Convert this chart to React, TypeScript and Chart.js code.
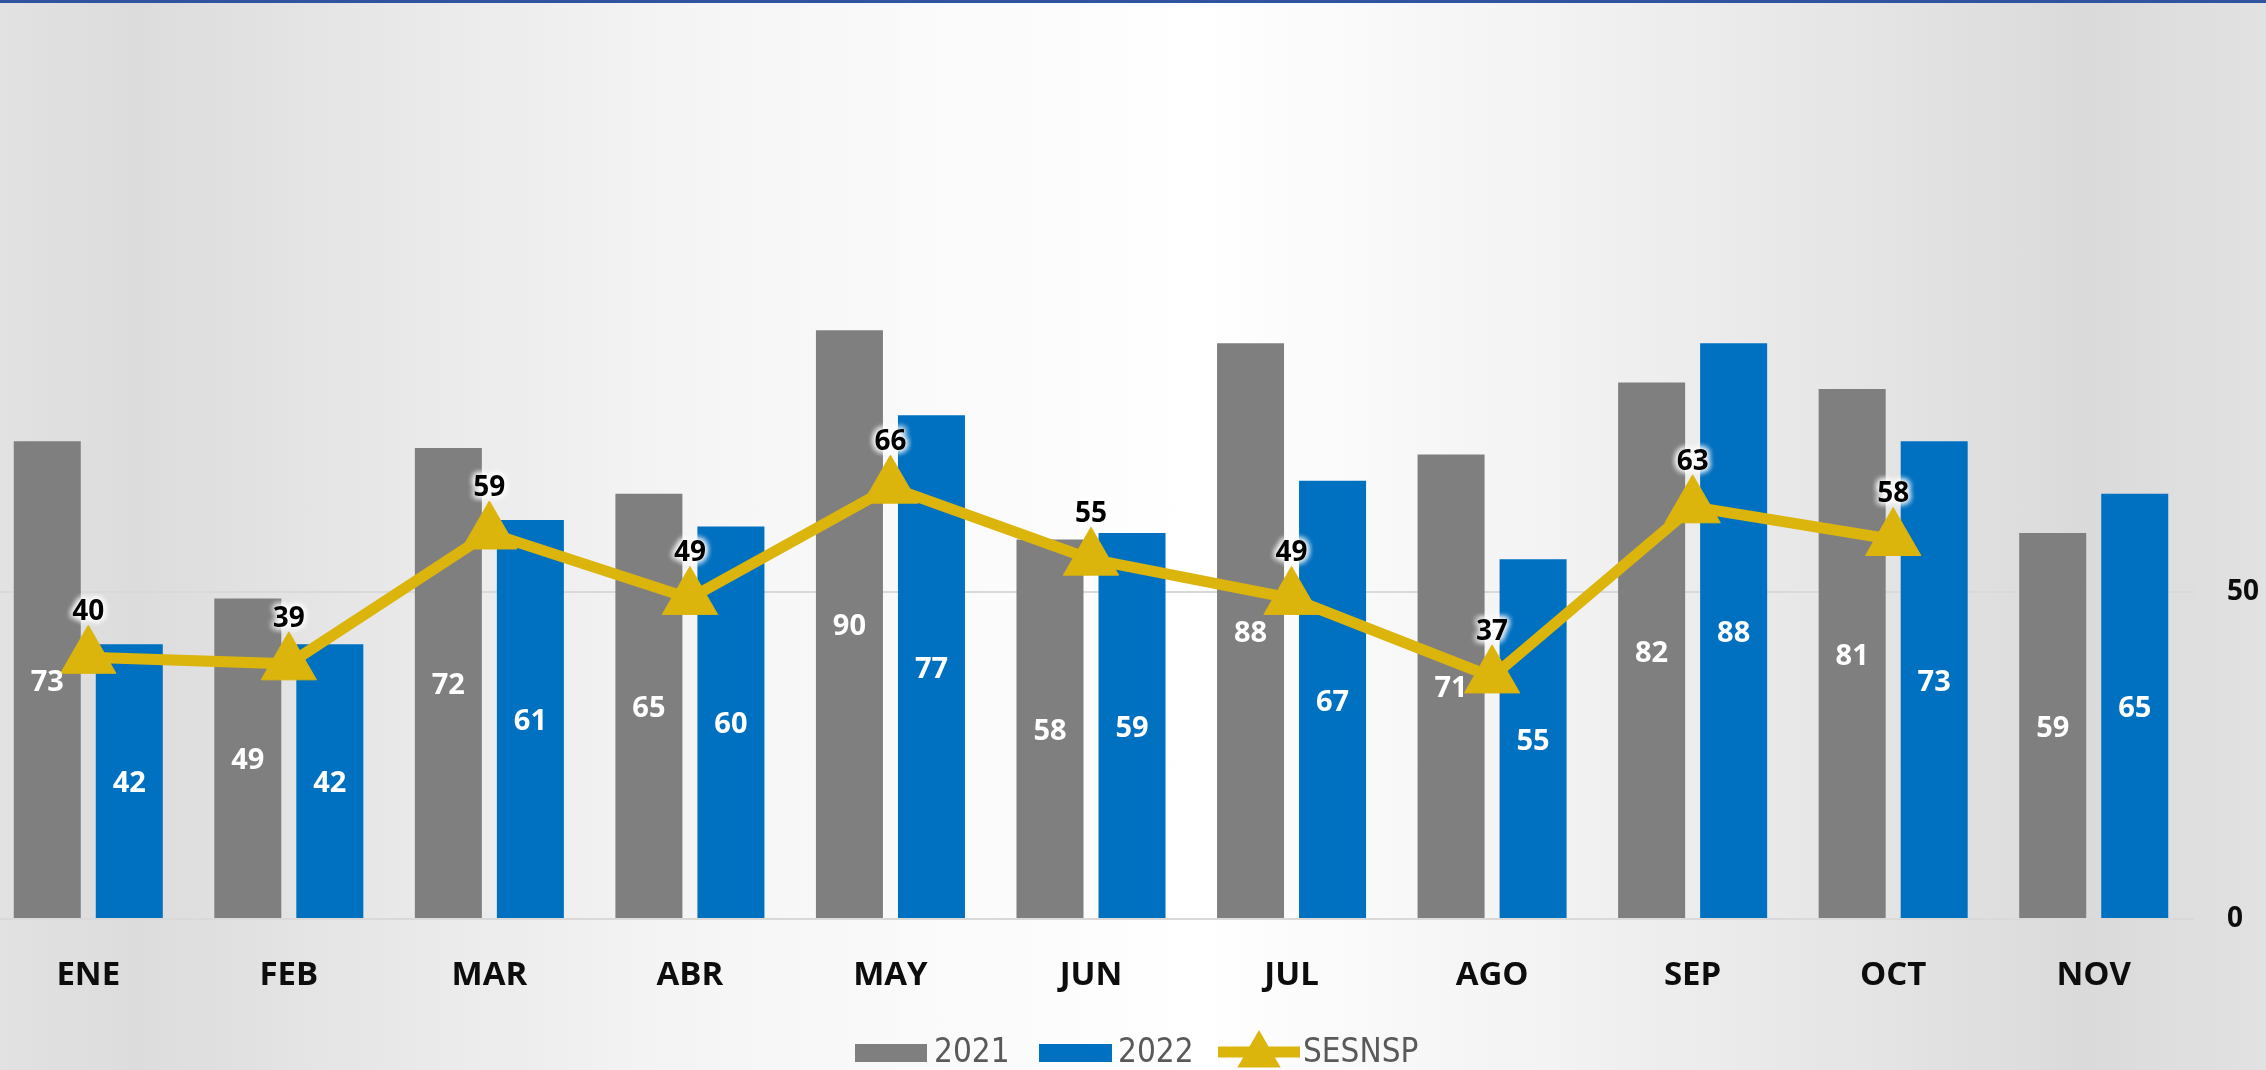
import { useEffect, useRef } from "react";
import { Chart, registerables } from "chart.js";

Chart.register(...registerables);

const categories = ["ENE", "FEB", "MAR", "ABR", "MAY", "JUN", "JUL", "AGO", "SEP", "OCT", "NOV"];
const values2021 = [73, 49, 72, 65, 90, 58, 88, 71, 82, 81, 59];
const values2022 = [42, 42, 61, 60, 77, 59, 67, 55, 88, 73, 65];
const valuesSESNSP: (number | null)[] = [40, 39, 59, 49, 66, 55, 49, 37, 63, 58, null];
const yTicks = [0, 50];
const legendLabels = ["2021", "2022", "SESNSP"];

const GRAY = "#7f7f7f";
const BLUE = "#0070c0";
const GOLD = "#dbb40c";
const SHIFT = 12; // canvas is shifted left by this many px

const labelPlugin = {
  id: "valueLabels",
  afterDatasetsDraw(chart: any) {
    const ctx = chart.ctx as CanvasRenderingContext2D;
    const barSets = [values2021, values2022];
    barSets.forEach((vals, di) => {
      const meta = chart.getDatasetMeta(di);
      meta.data.forEach((bar: any, i: number) => {
        const p = bar.getProps(["x", "y", "base"], true);
        ctx.save();
        ctx.fillStyle = "#ffffff";
        ctx.font = "bold 29px 'Open Sans', 'Noto Sans', sans-serif";
        ctx.textAlign = "center";
        ctx.textBaseline = "middle";
        ctx.fillText(String(vals[i]), p.x, (p.y + p.base) / 2 + 3);
        ctx.restore();
      });
    });
    const lmeta = chart.getDatasetMeta(2);
    lmeta.data.forEach((pt: any, i: number) => {
      const v = valuesSESNSP[i];
      if (v === null || v === undefined) return;
      const p = pt.getProps(["x", "y"], true);
      ctx.save();
      ctx.font = "bold 28px 'Open Sans', 'Noto Sans', sans-serif";
      ctx.textAlign = "center";
      ctx.textBaseline = "middle";
      ctx.shadowColor = "rgba(255,255,255,1)";
      ctx.shadowBlur = 7;
      ctx.fillStyle = "#ffffff";
      for (let k = 0; k < 4; k++) ctx.fillText(String(v), p.x, p.y - 45);
      ctx.shadowBlur = 0;
      ctx.shadowColor = "transparent";
      ctx.fillStyle = "#000000";
      ctx.fillText(String(v), p.x, p.y - 45);
      ctx.restore();
    });
  },
  afterDraw(chart: any) {
    const ctx = chart.ctx as CanvasRenderingContext2D;
    const yc = 1053;
    ctx.save();
    ctx.font = "33px 'Liberation Sans Narrow', 'DejaVu Sans Condensed', sans-serif";
    ctx.textBaseline = "middle";
    ctx.textAlign = "left";
    // 2021
    ctx.fillStyle = GRAY;
    ctx.fillRect(855 + SHIFT, 1044, 72, 18);
    ctx.fillStyle = "#595959";
    ctx.fillText(legendLabels[0], 934 + SHIFT, yc);
    // 2022
    ctx.fillStyle = BLUE;
    ctx.fillRect(1039 + SHIFT, 1044, 73, 18);
    ctx.fillStyle = "#595959";
    ctx.fillText(legendLabels[1], 1118 + SHIFT, yc);
    // SESNSP
    ctx.strokeStyle = GOLD;
    ctx.lineWidth = 11;
    ctx.beginPath();
    ctx.moveTo(1218 + SHIFT, 1052);
    ctx.lineTo(1300 + SHIFT, 1052);
    ctx.stroke();
    const cx = 1259 + SHIFT;
    const r = 25;
    ctx.fillStyle = GOLD;
    ctx.beginPath();
    ctx.moveTo(cx, 1055 - r);
    ctx.lineTo(cx + r * 0.866, 1055 + r / 2);
    ctx.lineTo(cx - r * 0.866, 1055 + r / 2);
    ctx.closePath();
    ctx.fill();
    ctx.fillStyle = "#595959";
    ctx.fillText(legendLabels[2], 1303 + SHIFT, yc);
    ctx.restore();
  },
};

export default function App() {
  const canvasRef = useRef<HTMLCanvasElement | null>(null);

  useEffect(() => {
    document.documentElement.style.overflow = "hidden";
    document.body.style.overflow = "hidden";
    const canvas = canvasRef.current;
    if (!canvas) return;
    const chart = new Chart(canvas, {
      type: "bar",
      data: {
        labels: categories,
        datasets: [
          {
            type: "bar",
            label: legendLabels[0],
            data: values2021,
            backgroundColor: GRAY,
            borderWidth: 0,
            barPercentage: 0.817,
            categoryPercentage: 0.818,
            order: 1,
          },
          {
            type: "bar",
            label: legendLabels[1],
            data: values2022,
            backgroundColor: BLUE,
            borderWidth: 0,
            barPercentage: 0.817,
            categoryPercentage: 0.818,
            order: 1,
          },
          {
            type: "line",
            label: legendLabels[2],
            data: valuesSESNSP,
            borderColor: GOLD,
            backgroundColor: GOLD,
            borderWidth: 11,
            pointStyle: "triangle",
            pointRadius: 32,
            pointHoverRadius: 32,
            pointBackgroundColor: GOLD,
            pointBorderColor: GOLD,
            pointBorderWidth: 1,
            tension: 0,
            spanGaps: false,
            clip: false,
            order: 0,
          } as any,
        ],
      },
      options: {
        animation: false,
        responsive: true,
        maintainAspectRatio: false,
        layout: { autoPadding: false, padding: { top: 3, right: 0, bottom: 51, left: 0 } },
        plugins: {
          legend: { display: false },
          tooltip: { enabled: false },
        },
        scales: {
          x: {
            grid: { display: false },
            border: { display: false },
            afterFit: (axis: any) => {
              axis.height = 100;
              axis.paddingLeft = 0;
              axis.paddingRight = 0;
            },
            ticks: {
              color: "#0d0d0d",
              font: { family: "'Open Sans', 'Noto Sans', sans-serif", size: 33, weight: "bold" },
              padding: 29,
            },
          },
          y: {
            position: "right",
            min: 0,
            max: 140,
            afterBuildTicks: (axis: any) => {
              axis.ticks = yTicks.map((v) => ({ value: v }));
            },
            afterFit: (axis: any) => {
              axis.width = 72;
              axis.paddingTop = 0;
              axis.paddingBottom = 0;
            },
            grid: { color: "#d9d9d9", lineWidth: 2, drawTicks: false },
            border: { display: false },
            ticks: {
              color: "#0d0d0d",
              font: { family: "'Open Sans', 'Noto Sans', sans-serif", size: 28, weight: "bold" },
              padding: 33,
            },
          },
        },
      },
      plugins: [labelPlugin],
    });
    return () => chart.destroy();
  }, []);

  return (
    <>
      <div
        style={{
          position: "fixed",
          left: 0,
          top: 0,
          width: "2266px",
          height: "1070px",
          boxSizing: "border-box",
          borderTop: "3px solid #2f54a0",
          background:
            "linear-gradient(90deg, #e2e2e2 0%, #dcdcdc 6%, #e9e9e9 18%, #f6f6f6 32%, #ffffff 53%, #f3f3f3 68%, #e3e3e3 84%, #dadada 92%, #e2e2e2 100%)",
        }}
      />
      <div
        style={{
          position: "absolute",
          left: `-${SHIFT}px`,
          top: 0,
          width: `${2266 + SHIFT}px`,
          height: "1070px",
        }}
      >
        <canvas ref={canvasRef} />
      </div>
    </>
  );
}
